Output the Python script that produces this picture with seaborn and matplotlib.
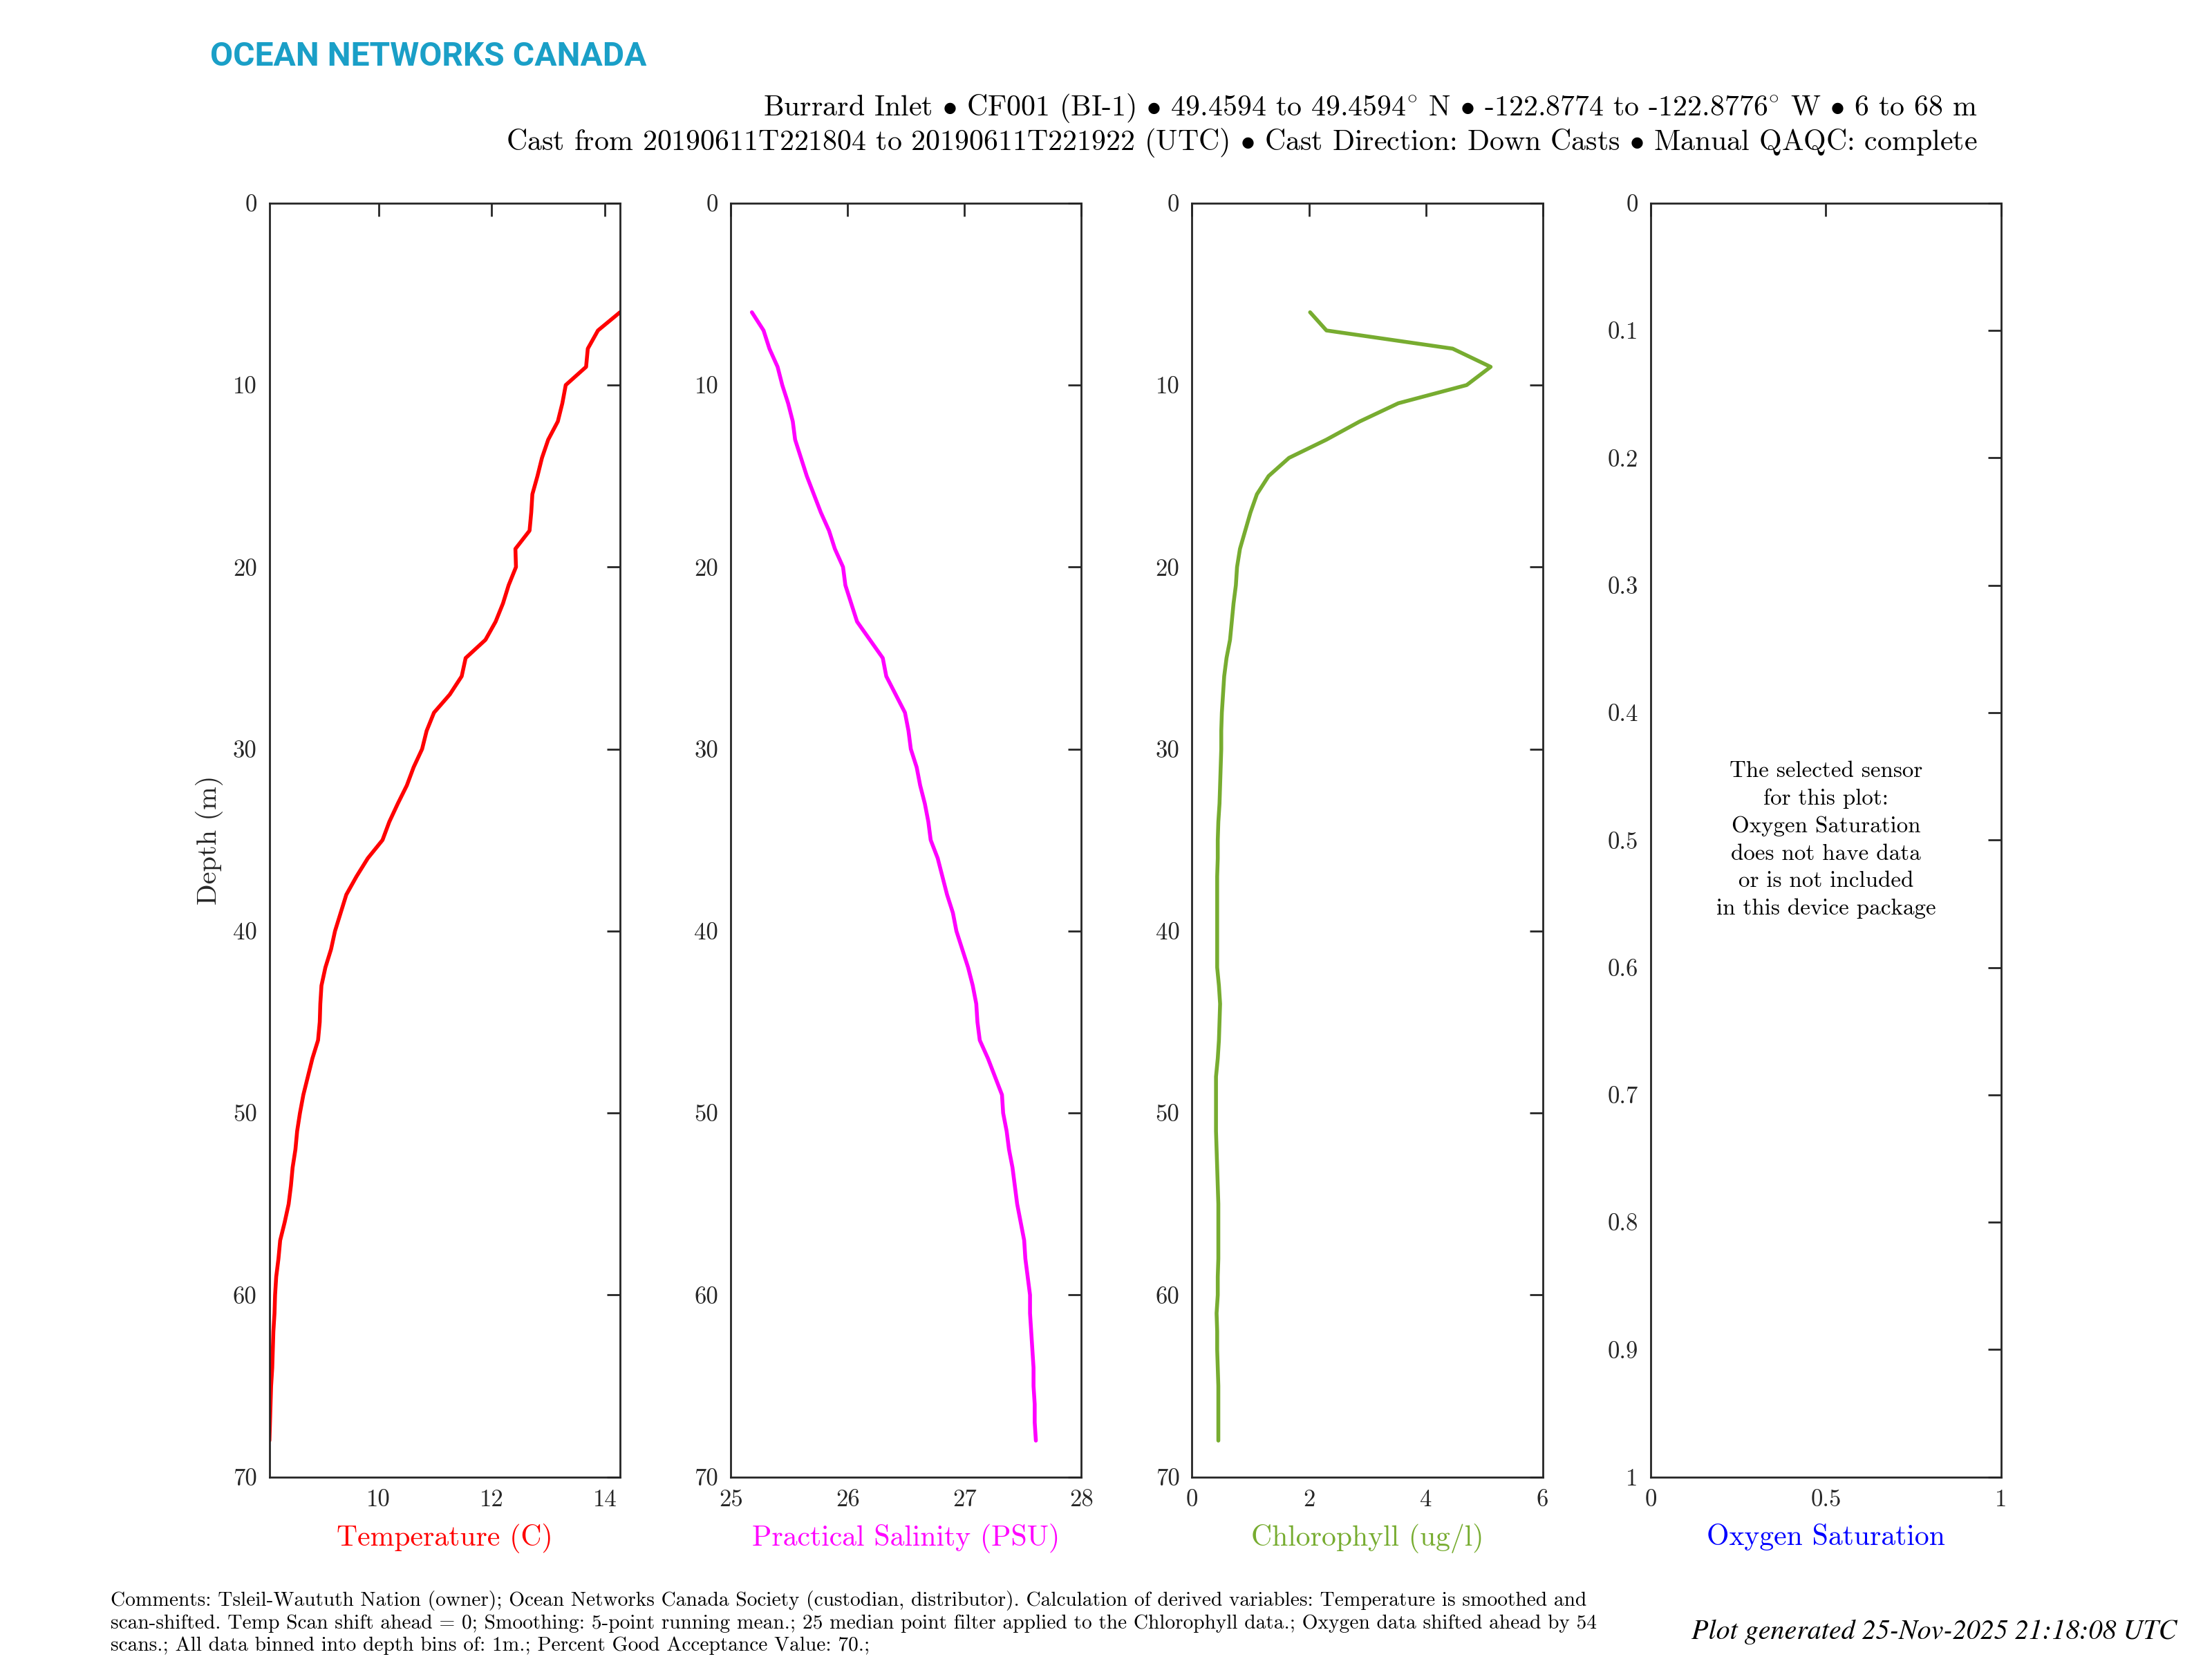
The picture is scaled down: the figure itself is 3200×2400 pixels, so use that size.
import matplotlib
matplotlib.use("Agg")
import matplotlib.pyplot as plt
import seaborn as sns
import pandas as pd
from matplotlib.ticker import FuncFormatter

# ---------------- data ----------------
depth = [6, 7, 8, 9, 10, 11, 12, 13, 14, 15, 16, 17, 18, 19, 20, 21, 22, 23, 24, 25,
         26, 27, 28, 29, 30, 31, 32, 33, 34, 35, 36, 37, 38, 39, 40, 41, 42, 43, 44, 45,
         46, 47, 48, 49, 50, 51, 52, 53, 54, 55, 56, 57, 58, 59, 60, 61, 62, 63, 64, 65,
         66, 67, 68]

temperature = [14.27, 13.88, 13.70, 13.67, 13.31, 13.25, 13.17, 13.00, 12.89, 12.81,
               12.72, 12.70, 12.67, 12.42, 12.43, 12.30, 12.20, 12.07, 11.89, 11.54,
               11.47, 11.26, 10.98, 10.85, 10.77, 10.62, 10.50, 10.34, 10.19, 10.07,
               9.81, 9.61, 9.43, 9.33, 9.23, 9.16, 9.06, 8.99, 8.97, 8.96,
               8.93, 8.83, 8.75, 8.67, 8.61, 8.56, 8.53, 8.48, 8.45, 8.41,
               8.34, 8.26, 8.23, 8.19, 8.17, 8.16, 8.14, 8.13, 8.12, 8.10,
               8.09, 8.08, 8.07]

salinity = [25.18, 25.28, 25.33, 25.40, 25.44, 25.49, 25.53, 25.55, 25.60, 25.65,
            25.71, 25.77, 25.84, 25.89, 25.96, 25.98, 26.03, 26.08, 26.19, 26.30,
            26.33, 26.41, 26.49, 26.52, 26.54, 26.59, 26.62, 26.66, 26.69, 26.71,
            26.77, 26.81, 26.85, 26.90, 26.93, 26.98, 27.03, 27.07, 27.10, 27.11,
            27.13, 27.20, 27.26, 27.32, 27.33, 27.36, 27.38, 27.41, 27.43, 27.45,
            27.48, 27.51, 27.52, 27.54, 27.56, 27.56, 27.57, 27.58, 27.59, 27.59,
            27.60, 27.60, 27.61]

chlorophyll = [2.02, 2.30, 4.46, 5.11, 4.70, 3.53, 2.87, 2.30, 1.66, 1.31,
               1.11, 1.00, 0.91, 0.82, 0.77, 0.75, 0.71, 0.68, 0.65, 0.59,
               0.55, 0.53, 0.51, 0.50, 0.50, 0.49, 0.48, 0.47, 0.45, 0.44,
               0.44, 0.43, 0.43, 0.43, 0.43, 0.43, 0.43, 0.46, 0.48, 0.47,
               0.46, 0.44, 0.41, 0.41, 0.41, 0.41, 0.42, 0.43, 0.44, 0.45,
               0.45, 0.45, 0.45, 0.44, 0.44, 0.42, 0.43, 0.43, 0.44, 0.45,
               0.45, 0.45, 0.45]

depth_ticks = [0, 10, 20, 30, 40, 50, 60, 70]
temp_ticks = [10, 12, 14]
sal_ticks = [25, 26, 27, 28]
chl_ticks = [0, 2, 4, 6]
oxy_xticks = [0, 0.5, 1]
oxy_yticks = [0, 0.1, 0.2, 0.3, 0.4, 0.5, 0.6, 0.7, 0.8, 0.9, 1]

labels = ["Temperature (C)", "Practical Salinity (PSU)", "Chlorophyll (ug/l)",
          "Oxygen Saturation"]
colors = ["#ff0000", "#ff00ff", "#77ac30", "#0000ff"]

B = r"$\bullet$"
DEG = r"$^{\circ}$"
title1 = ("Burrard Inlet " + B + " CF001 (BI-1) " + B + " 49.4594 to 49.4594" + DEG + " N "
          + B + " -122.8774 to -122.8776" + DEG + " W " + B + " 6 to 68 m")
title2 = ("Cast from 20190611T221804 to 20190611T221922 (UTC) " + B + " Cast Direction: "
          "Down Casts " + B + " Manual QAQC: complete")
no_data_msg = ("The selected sensor\nfor this plot:\nOxygen Saturation\n"
               "does not have data\nor is not included\nin this device package")
comments = ("Comments: Tsleil-Waututh Nation (owner); Ocean Networks Canada Society "
            "(custodian, distributor). Calculation of derived variables: Temperature is smoothed and\n"
            "scan-shifted. Temp Scan shift ahead = 0; Smoothing: 5-point running mean.; "
            "25 median point filter applied to the Chlorophyll data.; Oxygen data shifted ahead by 54\n"
            "scans.; All data binned into depth bins of: 1m.; Percent Good Acceptance Value: 70.;")
generated = "Plot generated 25-Nov-2025 21:18:08 UTC"

# ---------------- style ----------------
sns.set_style("white")
plt.rcParams["font.family"] = ["cmr10", "DejaVu Serif"]
plt.rcParams["mathtext.fontset"] = "cm"
plt.rcParams["axes.formatter.use_mathtext"] = True
plt.rcParams["axes.unicode_minus"] = False
axcol = "#262626"

df = pd.DataFrame({"depth": depth, "temperature": temperature,
                   "salinity": salinity, "chlorophyll": chlorophyll})

fig = plt.figure(figsize=(16, 12), dpi=200)
lefts = [0.1218, 0.3304, 0.5389, 0.7462]
bottom, height, width = 0.1097, 0.7679, 0.1585
axes = [fig.add_axes([l, bottom, width, height]) for l in lefts]

fmt = FuncFormatter(lambda v, p: "{:g}".format(v))
cols = ["temperature", "salinity", "chlorophyll"]
xticks = [temp_ticks, sal_ticks, chl_ticks]
xlims = [(min(temperature), max(temperature)), (25, 28), (0, 6)]

for i, ax in enumerate(axes):
    if i < 3:
        sns.lineplot(data=df, x=cols[i], y="depth", ax=ax, color=colors[i],
                     sort=False, estimator=None, linewidth=2.0)
        ax.set_xlim(*xlims[i])
        ax.set_ylim(70, 0)
        ax.set_xticks(xticks[i])
        ax.set_yticks(depth_ticks)
    else:
        ax.set_xlim(0, 1)
        ax.set_ylim(1, 0)
        ax.set_xticks(oxy_xticks)
        ax.set_yticks(oxy_yticks)
        ax.text(0.5, 0.5, no_data_msg, transform=ax.transAxes, ha="center",
                va="center", fontsize=11.9, color="black", linespacing=1.45)
    ax.xaxis.set_major_formatter(fmt)
    ax.yaxis.set_major_formatter(fmt)
    ax.set_xlabel(labels[i], color=colors[i], fontsize=15, labelpad=6.5)
    ax.set_ylabel("")
    ax.tick_params(direction="in", top=True, right=True, length=7, width=1.0,
                   colors=axcol, labelsize=12.5, pad=6.5)
    for s in ax.spines.values():
        s.set_color(axcol)
        s.set_linewidth(1.0)
    ax.grid(False)

axes[0].set_ylabel("Depth (m)", fontsize=14.5, color=axcol, labelpad=5)

fig.text(0.095, 0.966, "OCEAN NETWORKS CANADA", fontsize=17.3, fontweight="bold",
         color="#1a9fc7", ha="left", va="center", family=["Roboto", "DejaVu Sans"])
fig.text(0.894, 0.935, title1, fontsize=15.1, ha="right", va="center", color="black")
fig.text(0.894, 0.914, title2, fontsize=15.1, ha="right", va="center", color="black")
fig.text(0.050, 0.0218, comments, fontsize=10.6, ha="left", va="center",
         color="black", linespacing=1.26)
fig.text(0.984, 0.0165, generated, fontsize=14.4, ha="right", va="center",
         color="black", style="italic", family=["STIXGeneral", "DejaVu Serif"])

fig.savefig("out.png", dpi=200)
